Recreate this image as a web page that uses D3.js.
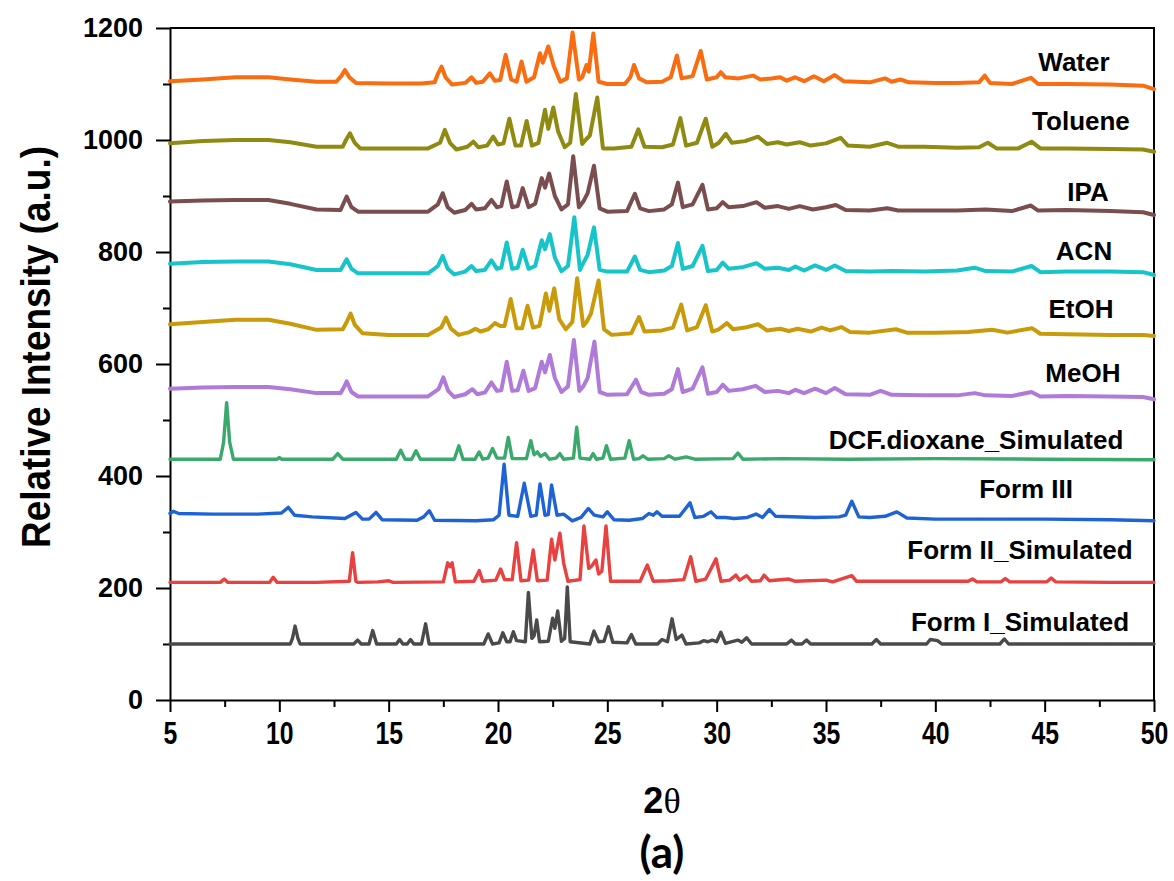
<!DOCTYPE html>
<html>
<head>
<meta charset="utf-8">
<title>PXRD patterns</title>
<script src="https://cdn.jsdelivr.net/npm/d3@7/dist/d3.min.js"></script>
<style>
  body { margin: 0; background: #fff; }
  .axis path, .axis line { stroke: #000; stroke-width: 2; }
  .yaxis text { font: bold 27px "Liberation Sans", Arial, sans-serif; fill: #000; }
  .xaxis text { font: bold 31px "Liberation Sans", Arial, sans-serif; fill: #000; }
  .trace { fill: none; stroke-linejoin: round; stroke-linecap: round; }
  .lbl { font: bold 26px "Liberation Sans", Arial, sans-serif; fill: #000; text-anchor: middle; }
</style>
</head>
<body>
<svg id="chart" width="1174" height="881"></svg>
<script>
// [2theta, intensity], one array per pattern
var waterData = [[5,1105],[6.5,1108],[8,1112],[9.5,1112],[10.5,1108],[11.7,1104],[12.6,1104],[12.85,1115],[13.0,1125],[13.2,1112],[13.5,1102],[15,1101],[16.5,1101],[17.1,1103],[17.25,1118],[17.42,1131],[17.6,1112],[17.9,1099],[18.5,1102],[18.79,1112],[19.0,1102],[19.3,1104],[19.63,1119],[19.85,1106],[20.1,1107],[20.35,1152],[20.6,1108],[20.85,1104],[21.08,1140],[21.3,1104],[21.65,1112],[21.92,1155],[22.05,1138],[22.3,1167],[22.55,1132],[22.85,1104],[23.15,1110],[23.41,1192],[23.7,1108],[23.85,1112],[24.05,1134],[24.15,1122],[24.36,1190],[24.6,1104],[25.0,1100],[25.8,1100],[26.05,1112],[26.22,1134],[26.45,1110],[26.8,1103],[27.5,1104],[27.9,1112],[28.18,1151],[28.4,1110],[28.9,1114],[29.27,1159],[29.55,1108],[30.0,1112],[30.19,1121],[30.4,1112],[31.0,1110],[31.66,1115],[32.0,1108],[32.5,1110],[32.9,1112],[33.2,1106],[33.58,1112],[34.0,1105],[34.45,1114],[34.9,1105],[35.4,1116],[35.8,1105],[37.0,1103],[37.7,1110],[38.0,1104],[38.4,1108],[38.8,1103],[40,1102],[41,1102],[42.0,1103],[42.26,1115],[42.5,1102],[43.5,1100],[44.37,1111],[44.7,1100],[46,1100],[48,1099],[49.5,1097],[50,1091]];
var tolueneData = [[5,994],[6.5,998],[8,1000],[9.5,1000],[10.5,996],[11.7,988],[12.9,988],[13.05,1000],[13.23,1012],[13.45,995],[13.7,985],[15,985],[16.8,985],[17.35,995],[17.57,1018],[17.8,995],[18.1,983],[18.6,988],[18.87,997],[19.1,987],[19.5,990],[19.78,1006],[20.0,992],[20.25,994],[20.52,1038],[20.8,990],[21.05,990],[21.31,1034],[21.55,990],[21.85,995],[22.15,1054],[22.3,1020],[22.53,1058],[22.75,1015],[23.05,987],[23.3,995],[23.56,1082],[23.85,993],[24.0,1000],[24.2,1008],[24.54,1076],[24.8,985],[25.3,985],[26.1,988],[26.42,1019],[26.7,988],[27.5,987],[28.0,992],[28.34,1039],[28.6,990],[29.1,995],[29.5,1038],[29.8,988],[30.1,995],[30.42,1011],[30.7,995],[31.3,998],[31.89,1006],[32.3,993],[32.8,996],[33.2,992],[33.8,996],[34.3,990],[35.0,994],[35.67,1004],[36.0,990],[37,988],[37.8,995],[38.3,988],[39.5,988],[41,986],[42.0,987],[42.4,995],[42.8,985],[43.8,985],[44.4,997],[44.8,985],[46,985],[48,984],[49.5,983],[50,979]];
var ipaData = [[5,890],[6.5,892],[8,893],[9.5,893],[10.5,886],[11.7,876],[12.8,875],[12.95,888],[13.08,899],[13.3,880],[13.6,872],[15,872],[16.8,872],[17.25,885],[17.47,905],[17.7,880],[18.0,870],[18.5,875],[18.79,886],[19.0,876],[19.4,878],[19.7,893],[19.95,880],[20.15,882],[20.4,926],[20.65,880],[20.9,882],[21.13,914],[21.4,880],[21.7,886],[22.0,932],[22.15,915],[22.34,940],[22.6,900],[22.9,876],[23.2,885],[23.44,971],[23.7,880],[23.9,890],[24.1,905],[24.39,954],[24.65,878],[25.0,872],[25.9,873],[26.26,904],[26.5,878],[26.9,873],[27.6,876],[27.95,885],[28.23,924],[28.45,880],[28.9,885],[29.35,920],[29.6,876],[30.0,878],[30.28,889],[30.55,880],[31.2,882],[31.82,889],[32.2,879],[32.8,882],[33.3,877],[33.8,882],[34.4,876],[35.0,880],[35.45,884],[35.9,875],[37,874],[37.8,878],[38.3,874],[39.5,874],[41,874],[42.3,876],[43.5,873],[44.37,883],[44.7,874],[46,875],[48,873],[49.5,871],[50,866]];
var acnData = [[5,779],[6.5,782],[8,783],[9.5,783],[10.5,778],[11.7,768],[12.8,768],[12.95,778],[13.08,787],[13.3,770],[13.6,762],[15,762],[16.8,762],[17.25,775],[17.47,793],[17.7,770],[18.0,760],[18.5,765],[18.79,775],[19.0,766],[19.4,768],[19.7,785],[19.95,770],[20.15,772],[20.4,817],[20.65,770],[20.9,772],[21.13,804],[21.4,770],[21.7,775],[22.0,821],[22.15,805],[22.37,832],[22.6,790],[22.9,766],[23.2,775],[23.49,862],[23.75,768],[23.9,780],[24.1,795],[24.39,844],[24.65,768],[25.0,765],[25.9,765],[26.26,792],[26.5,768],[26.9,764],[27.6,767],[27.95,775],[28.23,816],[28.45,770],[28.9,775],[29.35,811],[29.6,766],[30.0,768],[30.28,781],[30.55,770],[31.2,773],[31.82,780],[32.2,770],[32.8,772],[33.3,768],[33.6,774],[34.0,767],[34.5,776],[35.0,768],[35.4,776],[35.9,766],[37,765],[38,766],[39.5,765],[41,767],[41.8,772],[42.3,766],[43.5,765],[44.4,775],[44.8,764],[46,765],[48,765],[49.5,764],[50,759]];
var etohData = [[5,671],[6.5,675],[8,679],[9.5,679],[10.5,672],[11.7,661],[12.9,662],[13.08,675],[13.26,690],[13.45,670],[13.8,655],[15,652],[16.8,652],[17.4,665],[17.62,683],[17.85,663],[18.2,652],[18.7,657],[18.97,663],[19.2,658],[19.55,662],[19.86,673],[20.1,668],[20.3,668],[20.58,716],[20.85,664],[21.1,664],[21.35,704],[21.6,665],[21.9,668],[22.19,726],[22.35,695],[22.57,735],[22.8,680],[23.1,662],[23.4,675],[23.62,753],[23.9,668],[24.05,675],[24.25,690],[24.6,749],[24.85,662],[25.2,652],[26.1,655],[26.45,684],[26.7,658],[27.5,660],[28.0,665],[28.38,706],[28.65,660],[29.1,666],[29.5,705],[29.8,658],[30.1,662],[30.47,673],[30.75,662],[31.3,665],[31.89,671],[32.3,660],[32.9,663],[33.3,659],[33.7,663],[34.3,658],[34.8,665],[35.2,660],[35.7,666],[36.1,657],[37,656],[38.2,662],[38.7,656],[40,656],[41.5,657],[42.6,661],[43.3,656],[44.42,664],[44.8,654],[46,653],[48,652],[49.5,652],[50,650]];
var meohData = [[5,556],[6.5,558],[8,559],[9.5,559],[10.5,555],[11.7,548],[12.8,548],[12.95,558],[13.08,569],[13.3,550],[13.6,542],[15,542],[16.8,542],[17.28,555],[17.5,576],[17.72,552],[18.0,541],[18.5,546],[18.83,555],[19.05,546],[19.4,549],[19.7,567],[19.95,552],[20.15,553],[20.4,604],[20.65,552],[20.9,553],[21.16,588],[21.4,552],[21.7,557],[22.0,604],[22.15,585],[22.37,616],[22.6,575],[22.9,550],[23.2,560],[23.47,643],[23.72,552],[23.9,560],[24.1,575],[24.41,640],[24.65,550],[25.0,545],[25.9,546],[26.31,572],[26.55,550],[26.9,545],[27.6,547],[27.95,555],[28.23,591],[28.45,550],[28.9,556],[29.35,594],[29.6,547],[30.0,550],[30.28,563],[30.55,552],[31.2,555],[31.78,561],[32.2,550],[32.8,552],[33.3,548],[33.6,554],[34.0,548],[34.5,556],[35.0,548],[35.4,557],[35.9,546],[37,545],[37.5,552],[38,545],[39.5,544],[41,544],[41.8,548],[42.3,544],[43.5,543],[44.4,550],[44.8,542],[46,543],[48,542],[49.5,541],[50,537]];
var dioxaneData = [[5,430],[7.3,430],[7.45,460],[7.59,531],[7.73,460],[7.9,430],[9.9,430],[10.0,433],[10.1,430],[12.45,430],[12.67,440],[12.9,430],[15.35,430],[15.55,446],[15.75,430],[16.05,430],[16.25,445],[16.45,430],[18.0,430],[18.21,454],[18.4,430],[18.95,430],[19.14,443],[19.3,430],[19.55,432],[19.75,449],[19.95,432],[20.3,432],[20.47,469],[20.65,431],[21.3,431],[21.5,463],[21.65,438],[21.8,443],[21.95,435],[22.15,440],[22.35,430],[22.65,432],[22.83,440],[23.0,430],[23.45,432],[23.6,487],[23.75,432],[24.2,430],[24.35,440],[24.5,430],[24.8,432],[24.96,454],[25.15,430],[25.8,432],[26.0,463],[26.2,430],[26.45,431],[26.63,436],[26.85,430],[27.6,431],[27.8,436],[28.1,430],[28.6,434],[29.0,430],[30.75,431],[30.97,441],[31.2,430],[33,431],[36,430],[40,431],[45,430],[50,429]];
var form3Data = [[5,333],[5.15,337],[5.4,333],[7,332],[9,332],[10.1,334],[10.41,344],[10.7,330],[11.5,327],[13.0,324],[13.5,335],[13.8,323],[14.1,323],[14.42,335],[14.7,322],[16.3,321],[16.6,327],[16.86,338],[17.1,321],[19,320],[19.8,322],[20.05,330],[20.28,421],[20.5,330],[20.9,328],[21.2,387],[21.5,328],[21.75,330],[21.92,386],[22.15,330],[22.3,331],[22.45,384],[22.7,330],[23.0,332],[23.4,320],[23.8,326],[24.13,342],[24.4,330],[24.8,327],[25.0,336],[25.3,322],[26.0,321],[26.6,324],[26.9,333],[27.1,330],[27.27,336],[27.5,328],[28.3,328],[28.78,352],[29.0,326],[29.4,328],[29.74,336],[30.0,326],[30.4,326],[30.8,324],[31.4,326],[31.8,332],[32.1,326],[32.41,340],[32.7,328],[34.5,326],[35.6,327],[35.9,330],[36.18,355],[36.5,327],[37.0,326],[37.7,328],[38.24,336],[38.7,325],[40,323],[42,323],[45,323],[48,322],[50,320]];
var form2Data = [[5,210],[7.3,210],[7.48,216],[7.65,210],[9.55,210],[9.72,219],[9.9,210],[11.7,210],[13.2,212],[13.35,263],[13.5,212],[13.6,210],[14.5,211],[15.0,213],[15.2,210],[17.5,211],[17.7,245],[17.8,238],[17.9,245],[18.05,211],[18.9,212],[19.14,231],[19.3,212],[19.9,214],[20.12,234],[20.3,215],[20.65,215],[20.85,281],[21.05,213],[21.4,214],[21.61,268],[21.8,213],[22.25,214],[22.45,287],[22.6,250],[22.83,298],[23.0,245],[23.2,212],[23.75,215],[23.93,311],[24.15,235],[24.3,240],[24.48,250],[24.6,225],[24.75,230],[24.94,311],[25.15,212],[26.5,212],[26.83,241],[27.1,212],[27.8,213],[28.5,215],[28.81,256],[29.05,212],[29.5,216],[29.97,252],[30.2,212],[30.6,214],[30.88,223],[31.05,214],[31.37,222],[31.6,212],[32.0,213],[32.17,223],[32.4,213],[33.3,216],[33.6,212],[35.0,214],[35.3,211],[36.18,222],[36.4,212],[38,212],[41.5,212],[41.7,216],[41.9,211],[43.0,211],[43.2,217],[43.4,211],[45.1,211],[45.3,218],[45.5,211],[48,210],[50,210]];
var form1Data = [[5,100],[10.5,100],[10.6,110],[10.72,132],[10.85,110],[10.95,100],[13.4,100],[13.58,107],[13.75,100],[14.1,100],[14.27,124],[14.45,100],[15.35,100],[15.5,108],[15.65,100],[15.85,100],[16.0,108],[16.15,100],[16.5,100],[16.69,136],[16.85,100],[19.35,100],[19.55,118],[19.75,100],[20.05,102],[20.22,120],[20.4,104],[20.55,104],[20.7,122],[20.85,106],[21.25,104],[21.39,192],[21.55,110],[21.65,115],[21.77,143],[21.9,104],[22.3,105],[22.5,146],[22.6,128],[22.73,159],[22.9,105],[23.05,110],[23.17,202],[23.3,104],[24.2,100],[24.39,123],[24.6,104],[24.85,105],[25.05,131],[25.25,103],[25.9,102],[26.1,117],[26.3,100],[27.3,100],[27.5,108],[27.75,104],[27.96,145],[28.15,108],[28.41,116],[28.6,100],[29.2,102],[29.4,106],[29.6,104],[29.8,107],[30.0,104],[30.19,121],[30.4,101],[30.97,107],[31.15,103],[31.37,111],[31.6,100],[33.2,100],[33.42,107],[33.6,100],[33.9,100],[34.11,107],[34.3,100],[37.1,100],[37.3,108],[37.5,100],[39.6,100],[39.77,108],[40.1,106],[40.3,100],[42.95,100],[43.16,109],[43.35,100],[50,100]];

var names = ["Water", "Toluene", "IPA", "ACN", "EtOH", "MeOH", "DCF.dioxane_Simulated", "Form III", "Form II_Simulated", "Form I_Simulated"];
var colors = ["#fa6c10", "#8e8a12", "#7a4e4e", "#17c4c9", "#c99a0a", "#b07ad9", "#3aa96c", "#1e63d6", "#e8413f", "#4a4a4a"];
// label anchor (centre) in data units
var labelX = [46.34, 46.66, 46.98, 46.80, 46.66, 46.75, 41.86, 44.15, 43.87, 43.87];
var labelY = [1123, 1018, 891, 786, 682, 568, 448, 361, 252, 123];

var xTicks = [5, 10, 15, 20, 25, 30, 35, 40, 45, 50];
var yTicks = [0, 200, 400, 600, 800, 1000, 1200];

var allData = [waterData, tolueneData, ipaData, acnData, etohData, meohData, dioxaneData, form3Data, form2Data, form1Data];

var pLeft = 170, pRight = 1154, pTop = 28, pBottom = 700;

var x = d3.scaleLinear().domain([5, 50]).range([pLeft, pRight]);
var y = d3.scaleLinear().domain([0, 1200]).range([pBottom, pTop]);

var svg = d3.select("#chart");

// minor ticks
svg.append("g")
  .attr("class", "axis")
  .attr("transform", "translate(0," + pBottom + ")")
  .call(d3.axisBottom(x).tickValues(d3.range(7.5, 50, 5)).tickSize(7).tickFormat(""))
  .select(".domain").remove();
svg.append("g")
  .attr("class", "axis")
  .attr("transform", "translate(" + pLeft + ",0)")
  .call(d3.axisLeft(y).tickValues(d3.range(100, 1200, 200)).tickSize(7).tickFormat(""))
  .select(".domain").remove();

var xg = svg.append("g")
  .attr("class", "axis xaxis")
  .attr("transform", "translate(0," + pBottom + ")")
  .call(d3.axisBottom(x).tickValues(xTicks).tickSize(12).tickPadding(10).tickSizeOuter(0));
// the tick numbers are condensed in the original
xg.selectAll(".tick text").attr("transform", "scale(0.8,1)");

svg.append("g")
  .attr("class", "axis yaxis")
  .attr("transform", "translate(" + pLeft + ",0)")
  .call(d3.axisLeft(y).tickValues(yTicks).tickSize(14).tickPadding(13).tickSizeOuter(0).tickFormat(d3.format("d")));

// box
svg.append("path")
  .attr("d", "M" + pLeft + "," + pTop + "H" + pRight + "V" + pBottom)
  .attr("fill", "none").attr("stroke", "#000").attr("stroke-width", 2);

var line = d3.line()
  .x(function(d){ return x(d[0]); })
  .y(function(d){ return y(d[1]); });

svg.append("g").selectAll("path")
  .data(allData)
  .enter().append("path")
  .attr("class", "trace")
  .attr("d", line)
  .attr("stroke", function(d, i){ return colors[i]; })
  .attr("stroke-width", function(d, i){ return i < 6 ? 4 : 3.4; });

svg.append("g").selectAll("text")
  .data(names)
  .enter().append("text")
  .attr("class", "lbl")
  .attr("x", function(d, i){ return x(labelX[i]); })
  .attr("y", function(d, i){ return y(labelY[i]); })
  .text(function(d){ return d; });

// axis titles
svg.append("text")
  .attr("transform", "translate(50,347) rotate(-90) scale(0.9,1)")
  .attr("text-anchor", "middle")
  .style("font", "bold 41px 'Liberation Sans', Arial, sans-serif")
  .text("Relative Intensity (a.u.)");

var tt = svg.append("text")
  .attr("x", (pLeft + pRight) / 2)
  .attr("y", 813)
  .attr("text-anchor", "middle");
tt.append("tspan").style("font", "bold 36px 'Liberation Sans', sans-serif").text("2");
tt.append("tspan").style("font", "36px 'Liberation Serif', serif").text("θ");

svg.append("text")
  .attr("x", (pLeft + pRight) / 2)
  .attr("y", 868)
  .attr("text-anchor", "middle")
  .style("font", "bold 44px Lato, 'Open Sans', sans-serif")
  .text("(a)");
</script>
</body>
</html>
